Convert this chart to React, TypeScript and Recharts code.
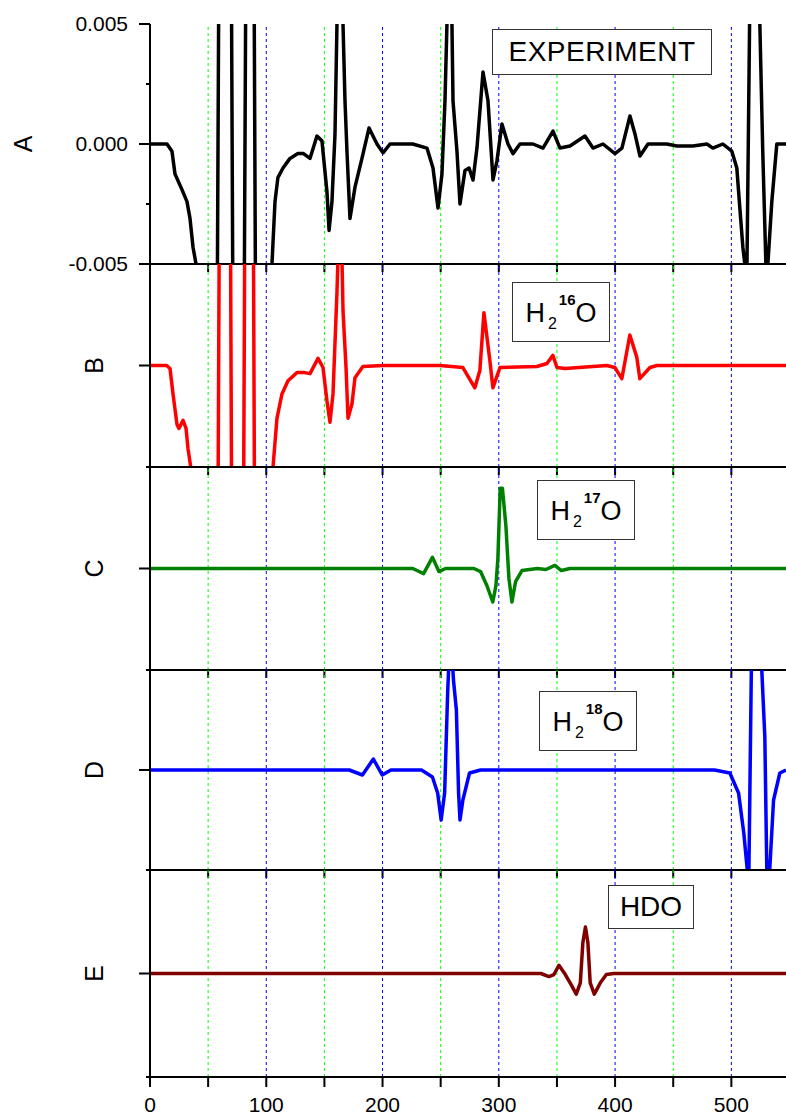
import React from "react";
import { LineChart, Line, XAxis, YAxis, ReferenceLine } from "recharts";

// spectra, x = channel, y in 1e-3 absorbance units
const experiment: [number, number][] = [
  [0, 0], [14.6, 0], [18.9, -0.3], [21.5, -1.25], [27.5, -1.9], [31.8, -2.4], [34.4, -3.1], [37, -4.3],
  [39.6, -5.0], [42, -6.5], [57.8, -7], [59.2, 7], [70, 7], [71.3, -7], [81, -7], [82.4, 7], [89.5, 7],
  [90.8, -7], [103.5, -7], [104.9, -5], [107.5, -2.4], [110, -1.4], [114.4, -1.0], [120.4, -0.6],
  [127.2, -0.4], [132, -0.4], [137.6, -0.6], [143.6, 0.33], [147.9, 0.13], [152.2, -2.0], [154, -3.6],
  [156.5, -2.4], [159.1, 0.4], [160.8, 5], [162.5, 7], [164.2, 7], [166, 5], [167.7, 1.8], [169.4, -0.3],
  [172, -3.1], [176.3, -1.8], [182.3, -0.6], [188.4, 0.67], [195.2, 0], [200.4, -0.37], [206.4, 0],
  [226, 0], [238.2, -0.17], [243.4, -1.0], [247.7, -2.67], [251.1, -1.25], [253.7, 1.8], [255.4, 5],
  [257, 7], [259, 7], [259.7, 5], [260.6, 1.8], [264, -0.3], [266.6, -2.5], [270.9, -1.1], [274.4, -1.0],
  [277.8, -1.5], [281.2, -0.17], [286.4, 3.0], [290.7, 1.8], [295, -1.5], [298.4, -0.7], [302.7, 0.83],
  [307.9, 0], [312.2, -0.4], [318.2, 0], [329.4, 0], [338, -0.17], [346.6, 0.54], [352.6, -0.17],
  [361.2, -0.08], [374.1, 0.33], [381, -0.17], [389.6, 0], [399.9, -0.4], [405.9, -0.17], [412.8, 1.17],
  [417.1, 0.42], [421.4, -0.5], [428.3, 0], [444.5, 0], [453.1, -0.08], [466.9, -0.08], [479, 0],
  [484.1, -0.17], [492.7, 0], [500.4, -0.3], [504.7, -1.0], [507.3, -2.67], [509.9, -4.3], [511.6, -5],
  [513, -7], [515.9, 6], [517, 7], [523.6, 7], [524.5, 5], [527, -0.3], [529.7, -5], [530.5, -6],
  [531.4, -5], [534.8, -2.4], [539.1, 0], [547, 0],
];

const h2o16: [number, number][] = [
  [0, 0], [14.3, 0], [17.2, -0.15], [19.8, -1.4], [23.2, -2.9], [24.9, -3.1], [28.4, -2.7], [31, -3.1],
  [32.7, -4.1], [35.3, -5.1], [37, -6.5], [58.5, -7], [59.6, 7], [69.2, 7], [70.2, -7], [80.5, -7],
  [81.5, 7], [88.9, 7], [89.9, -7], [104.5, -7], [105.8, -5], [109.2, -2.6], [113.5, -1.4], [118.7, -0.75],
  [126.4, -0.35], [133, -0.35], [137.6, -0.4], [144.5, 0.35], [148.8, -0.1], [152.2, -1.75], [154.8, -2.8],
  [157.4, -1.4], [160.8, 3.6], [161.7, 5.3], [165.1, 5.3], [166, 2.7], [168.6, -0.1], [170.3, -2.6],
  [173.7, -1.9], [176.3, -0.6], [183.1, -0.05], [200.3, 0], [249.4, 0], [269.1, -0.1], [279.4, -1.1],
  [283.7, -0.25], [287.2, 2.6], [292.3, 0.25], [294.9, -1.1], [301, -0.1], [332.8, -0.05], [341.4, 0.1],
  [346.5, 0.5], [350, -0.1], [356.8, -0.15], [393, 0], [399.8, -0.1], [405.8, -0.65], [412.7, 1.5],
  [418.7, 0.4], [421.3, -0.65], [430, -0.1], [436, 0], [547, 0],
];

const h2o17: [number, number][] = [
  [0, 0], [226, 0], [235.3, -0.25], [242.9, 0.55], [248.5, -0.15], [254.2, 0], [278.6, 0], [284.3, -0.15],
  [289.8, -0.85], [294.8, -1.65], [297.5, -0.85], [299.2, 0.5], [301.2, 3.95], [303.1, 3.95], [306.1, 2.1],
  [308.7, -0.5], [311.3, -1.65], [314.4, -0.65], [319.9, -0.1], [333.2, 0], [340.5, -0.05], [348.2, 0.15],
  [353.8, -0.1], [361.1, 0], [547, 0],
];

const h2o18: [number, number][] = [
  [0, 0], [171.4, 0], [182.7, -0.25], [192.1, 0.55], [199.7, -0.25], [207.2, 0], [233.5, 0], [242.9, -0.35],
  [247.4, -1.15], [250.4, -2.5], [253.4, -1.15], [256, 3.85], [257.5, 6], [259.5, 6], [261, 4.5],
  [263.5, 3], [265.4, -1.15], [266.6, -2.5], [269.1, -1.5], [274.8, -0.15], [284.3, 0], [485.5, 0],
  [498.7, -0.15], [506.2, -1.15], [510.7, -3.15], [513.7, -5], [514.8, -6.5], [517.5, 6.5], [525, 6.5],
  [528.8, 1.65], [530.5, -5], [531.5, -6], [533, -5], [536.3, -1.5], [541.7, -0.15], [547, 0],
];

const hdo: [number, number][] = [
  [0, 0], [336.2, 0], [343.1, -0.15], [347.4, -0.05], [351.7, 0.4], [357.2, -0.05], [362.3, -0.55],
  [366.6, -1.0], [370.1, -0.45], [372.3, 1.5], [374.5, 2.25], [376.6, 1.5], [378.6, -0.45], [382.1, -1.0],
  [387.3, -0.45], [392.5, -0.05], [398.9, 0], [547, 0],
];

const xTicks = [0, 50, 100, 150, 200, 250, 300, 350, 400, 450, 500];
const greenGrid = [50, 150, 250, 350, 450];
const blueGrid = [100, 200, 300, 400, 500];
const yTicksA = [-5, -2.5, 0, 2.5, 5];
const yTicksOther = [-5, 0, 5];

const FONT = '"Liberation Sans", Arial, sans-serif';
const TOP_PAD = 12;

const toPoints = (arr: [number, number][]) => arr.map(([x, y]) => ({ x, y }));

function makeYTick(withLabels: boolean) {
  return (props: any) => {
    const { x, y, payload } = props;
    const v = payload.value;
    const major = v === 0 || (withLabels && Math.abs(v) === 5);
    const len = major ? 11 : 4;
    return (
      <g>
        <line x1={x - len} x2={x} y1={y} y2={y} stroke="#000" strokeWidth={2} />
        {withLabels && major && (
          <text x={x - 22} y={y} dy={7} textAnchor="end" fontSize={21} fill="#000">
            {(v / 1000).toFixed(3)}
          </text>
        )}
      </g>
    );
  };
}

interface PanelProps {
  name: string;
  data: [number, number][];
  color: string;
  top: number;
  height: number;
  labelX: number;
  first?: boolean;
  last?: boolean;
}

function Panel({ name, data, color, top, height, labelX, first, last }: PanelProps) {
  const xh = last ? 42 : 12;
  const cy = TOP_PAD + height / 2;
  return (
    <div style={{ position: "absolute", left: 0, top: top - TOP_PAD }}>
      <LineChart
        width={786}
        height={TOP_PAD + height + xh}
        data={toPoints(data)}
        margin={{ top: TOP_PAD, right: 0, left: 0, bottom: 0 }}
      >
        {greenGrid.map((g) => (
          <ReferenceLine key={"g" + g} x={g} stroke="#00ff00" strokeDasharray="3 3" strokeWidth={1} />
        ))}
        {blueGrid.map((g) => (
          <ReferenceLine key={"b" + g} x={g} stroke="#0000ff" strokeDasharray="3 3" strokeWidth={1} />
        ))}
        <XAxis
          dataKey="x"
          type="number"
          domain={[0, 547]}
          allowDataOverflow
          ticks={xTicks}
          interval={0}
          height={xh}
          tickSize={last ? 10 : 8}
          tickMargin={last ? 10 : 0}
          axisLine={{ stroke: "#000", strokeWidth: 2 }}
          tickLine={{ stroke: "#000", strokeWidth: 2 }}
          tick={last ? { fontSize: 21, fill: "#000" } : { fontSize: 1, fill: "none" }}
          tickFormatter={(v: number) => (last && v % 100 === 0 ? String(v) : "")}
        />
        {first && (
          <XAxis
            xAxisId="top"
            orientation="top"
            dataKey="x"
            type="number"
            domain={[0, 547]}
            height={0}
            tick={false}
            tickLine={false}
            axisLine={{ stroke: "#000", strokeWidth: 2 }}
          />
        )}
        <YAxis
          type="number"
          domain={[-5, 5]}
          allowDataOverflow
          width={150}
          ticks={first ? yTicksA : yTicksOther}
          interval={0}
          tickSize={0}
          tickMargin={0}
          tickLine={false}
          axisLine={{ stroke: "#000", strokeWidth: 2 }}
          tick={makeYTick(!!first)}
          label={{
            content: () => (
              <text
                x={labelX}
                y={cy}
                transform={`rotate(-90 ${labelX} ${cy})`}
                textAnchor="middle"
                dominantBaseline="central"
                fontSize={25}
                fill="#000"
              >
                {name}
              </text>
            ),
          }}
        />
        <Line
          type="linear"
          dataKey="y"
          stroke={color}
          strokeWidth={3.5}
          strokeLinejoin="round"
          dot={false}
          isAnimationActive={false}
        />
      </LineChart>
    </div>
  );
}

const boxStyle: React.CSSProperties = {
  position: "absolute",
  border: "1.5px solid #333",
  background: "#fff",
  boxSizing: "border-box",
  display: "flex",
  alignItems: "center",
  justifyContent: "center",
  color: "#000",
  whiteSpace: "nowrap",
};

function Water({ mass, left, top }: { mass: string; left: number; top: number }) {
  return (
    <div style={{ ...boxStyle, left, top, width: 98, height: 60, fontSize: 27, paddingTop: 2 }}>
      <span>H</span>
      <span style={{ fontSize: 16, position: "relative", top: 11, marginLeft: 3 }}>2</span>
      <span style={{ fontSize: 15, fontWeight: "bold", position: "relative", top: -14, marginLeft: 2 }}>
        {mass}
      </span>
      <span>O</span>
    </div>
  );
}

export default function App() {
  return (
    <div
      style={{
        position: "absolute",
        left: 0,
        top: 0,
        width: 786,
        height: 1119,
        overflow: "hidden",
        background: "#fff",
        fontFamily: FONT,
      }}
    >
      <Panel name="A" data={experiment} color="#000000" top={24} height={240} labelX={23} first />
      <Panel name="B" data={h2o16} color="#ff0000" top={264} height={203} labelX={94} />
      <Panel name="C" data={h2o17} color="#008000" top={467} height={203} labelX={94} />
      <Panel name="D" data={h2o18} color="#0000ff" top={670} height={200} labelX={94} />
      <Panel name="E" data={hdo} color="#800000" top={870} height={207} labelX={94} last />

      <div style={{ ...boxStyle, left: 492, top: 29, width: 220, height: 46, fontSize: 28, letterSpacing: 0.5 }}>
        EXPERIMENT
      </div>
      <Water mass="16" left={512} top={282} />
      <Water mass="17" left={537} top={480} />
      <Water mass="18" left={539} top={691} />
      <div style={{ ...boxStyle, left: 608, top: 885, width: 86, height: 44, fontSize: 28 }}>HDO</div>
    </div>
  );
}
